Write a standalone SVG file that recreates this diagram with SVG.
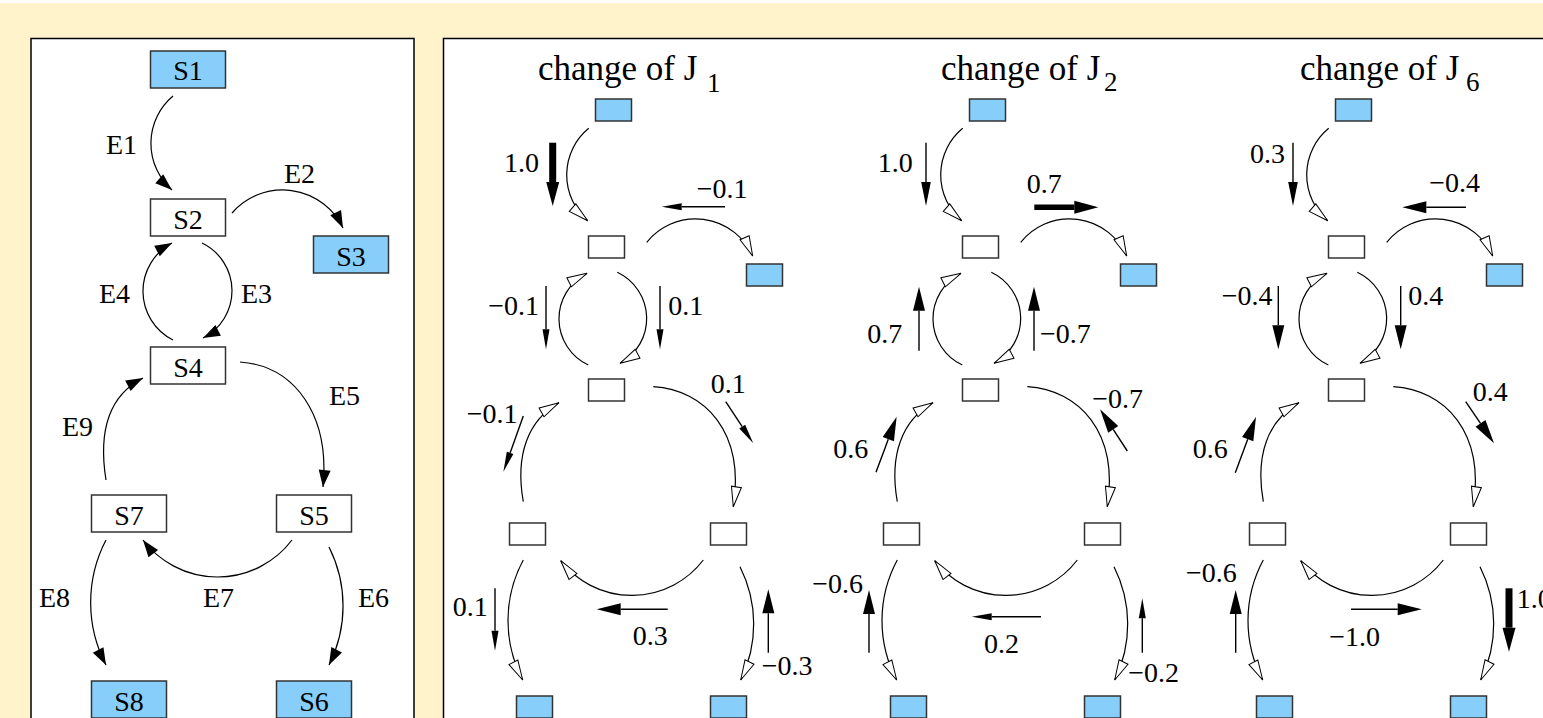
<svg xmlns="http://www.w3.org/2000/svg" width="1543" height="718" viewBox="0 0 1543 718">
<style>
.t{font-family:"Liberation Serif","Times New Roman",serif;font-size:28px;fill:#000}
.ti{font-family:"Liberation Serif","Times New Roman",serif;font-size:35px;fill:#000}
.sub{font-family:"Liberation Serif","Times New Roman",serif;font-size:27px;fill:#000}
.blue{fill:#87cefa;stroke:#333;stroke-width:1.5}
.white{fill:#fff;stroke:#333;stroke-width:1.5}
.e{fill:none;stroke:#000;stroke-width:1.2;marker-end:url(#hf)}
.c{fill:none;stroke:#000;stroke-width:1.2;marker-end:url(#ho)}
.f{stroke:#000;stroke-width:1.4}
.fk{stroke:#000;stroke-width:7}
</style>
<defs>
<marker id="hf" markerUnits="userSpaceOnUse" markerWidth="20" markerHeight="14" viewBox="0 -7 20 14" refX="17" refY="0" orient="auto" overflow="visible"><path d="M0,-6 L17,0 L0,6 z" fill="#000"/></marker>
<marker id="ho" markerUnits="userSpaceOnUse" markerWidth="22" markerHeight="12" viewBox="0 -6 22 12" refX="20" refY="0" orient="auto" overflow="visible"><path d="M0,-5 L20,0 L0,5 z" fill="#fff" stroke="#000" stroke-width="1"/></marker>
<marker id="fs" markerUnits="userSpaceOnUse" markerWidth="30" markerHeight="20" viewBox="0 -10 30 20" refX="0" refY="0" orient="auto" overflow="visible"><path d="M0,-3.5 L20,0 L0,3.5 z" fill="#000"/></marker>
<marker id="fn" markerUnits="userSpaceOnUse" markerWidth="30" markerHeight="20" viewBox="0 -10 30 20" refX="0" refY="0" orient="auto" overflow="visible"><path d="M0,-4.8 L24,0 L0,4.8 z" fill="#000"/></marker>
<marker id="fm" markerUnits="userSpaceOnUse" markerWidth="30" markerHeight="20" viewBox="0 -10 30 20" refX="0" refY="0" orient="auto" overflow="visible"><path d="M0,-6 L24,0 L0,6 z" fill="#000"/></marker>
<marker id="ft" markerUnits="userSpaceOnUse" markerWidth="30" markerHeight="20" viewBox="0 -10 30 20" refX="0" refY="0" orient="auto" overflow="visible"><path d="M0,-6.5 L24,0 L0,6.5 z" fill="#000"/></marker>
</defs>

<rect x="0" y="0" width="1543" height="718" fill="#fff"/>
<rect x="0" y="3" width="1543" height="715" fill="#fff3cc"/>
<rect x="31" y="38.5" width="383" height="690" fill="#fff" stroke="#000" stroke-width="1.5"/>
<rect x="443.5" y="38.5" width="1120" height="690" fill="#fff" stroke="#000" stroke-width="1.5"/>

<!-- left network nodes -->
<g id="S1"><rect class="blue" x="150.5" y="51" width="75" height="37"/><text class="t" x="188" y="80" text-anchor="middle">S1</text></g>
<g id="S2"><rect class="white" x="150.5" y="199" width="75" height="37"/><text class="t" x="188" y="229" text-anchor="middle">S2</text></g>
<g id="S3"><rect class="blue" x="313.5" y="236" width="75" height="37"/><text class="t" x="351" y="266" text-anchor="middle">S3</text></g>
<g id="S4"><rect class="white" x="150.5" y="347" width="75" height="37"/><text class="t" x="188" y="377" text-anchor="middle">S4</text></g>
<g id="S7"><rect class="white" x="91.5" y="495" width="75" height="37"/><text class="t" x="129" y="525" text-anchor="middle">S7</text></g>
<g id="S5"><rect class="white" x="276.5" y="495" width="75" height="37"/><text class="t" x="314" y="525" text-anchor="middle">S5</text></g>
<g id="S8"><rect class="blue" x="91.5" y="681" width="75" height="37"/><text class="t" x="129" y="711" text-anchor="middle">S8</text></g>
<g id="S6"><rect class="blue" x="276.5" y="681" width="75" height="37"/><text class="t" x="314" y="711" text-anchor="middle">S6</text></g>

<g id="left-edges">
<path class="e" d="M173,96 A62,62 0 0 0 172,190"/>
<path class="e" d="M232,213 A67,67 0 0 1 343,228"/>
<path class="e" d="M202,243 A53,53 0 0 1 203,338"/>
<path class="e" d="M173,340 A54.6,54.6 0 0 1 172,243"/>
<path class="e" d="M240,362 C295,366 330,415 323,487"/>
<path class="e" d="M106,480 C98,430 110,395 143,378"/>
<path class="e" d="M292,540 A93.5,93.5 0 0 1 143,540"/>
<path class="e" d="M106,540 A135,135 0 0 0 106,665"/>
<path class="e" d="M329,547 A131,131 0 0 1 329,665"/>
<text class="t" x="106" y="154">E1</text>
<text class="t" x="284" y="183">E2</text>
<text class="t" x="241" y="303">E3</text>
<text class="t" x="99" y="303">E4</text>
<text class="t" x="329" y="405">E5</text>
<text class="t" x="62" y="436">E9</text>
<text class="t" x="203" y="607">E7</text>
<text class="t" x="39" y="607">E8</text>
<text class="t" x="358" y="607">E6</text>
</g>

<!-- titles -->
<text class="ti" x="538" y="80">change of J</text><text class="sub" x="707" y="91.5">1</text>
<text class="ti" x="941" y="80">change of J</text><text class="sub" x="1104" y="91">2</text>
<text class="ti" x="1300" y="80">change of J</text><text class="sub" x="1466" y="91">6</text>

<!-- panel 1 nodes -->
<g id="p1-S1"><rect class="blue" x="595.5" y="99" width="36" height="22"/></g>
<g id="p1-S2"><rect class="white" x="588.5" y="236" width="36" height="22"/></g>
<g id="p1-S3"><rect class="blue" x="746.5" y="264" width="36" height="22"/></g>
<g id="p1-S4"><rect class="white" x="588.5" y="379" width="36" height="22"/></g>
<g id="p1-S7"><rect class="white" x="509.5" y="523" width="36" height="22"/></g>
<g id="p1-S5"><rect class="white" x="710.5" y="523" width="36" height="22"/></g>
<g id="p1-S8"><rect class="blue" x="516.5" y="696" width="36" height="22"/></g>
<g id="p1-S6"><rect class="blue" x="710.5" y="696" width="36" height="22"/></g>
<!-- panel 2 nodes -->
<g id="p2-S1"><rect class="blue" x="969.5" y="99" width="36" height="22"/></g>
<g id="p2-S2"><rect class="white" x="962.5" y="236" width="36" height="22"/></g>
<g id="p2-S3"><rect class="blue" x="1120.5" y="264" width="36" height="22"/></g>
<g id="p2-S4"><rect class="white" x="962.5" y="379" width="36" height="22"/></g>
<g id="p2-S7"><rect class="white" x="883.5" y="523" width="36" height="22"/></g>
<g id="p2-S5"><rect class="white" x="1084.5" y="523" width="36" height="22"/></g>
<g id="p2-S8"><rect class="blue" x="890.5" y="696" width="36" height="22"/></g>
<g id="p2-S6"><rect class="blue" x="1084.5" y="696" width="36" height="22"/></g>
<!-- panel 3 nodes -->
<g id="p3-S1"><rect class="blue" x="1335.5" y="99" width="36" height="22"/></g>
<g id="p3-S2"><rect class="white" x="1328.5" y="236" width="36" height="22"/></g>
<g id="p3-S3"><rect class="blue" x="1486.5" y="264" width="36" height="22"/></g>
<g id="p3-S4"><rect class="white" x="1328.5" y="379" width="36" height="22"/></g>
<g id="p3-S7"><rect class="white" x="1249.5" y="523" width="36" height="22"/></g>
<g id="p3-S5"><rect class="white" x="1450.5" y="523" width="36" height="22"/></g>
<g id="p3-S8"><rect class="blue" x="1256.5" y="696" width="36" height="22"/></g>
<g id="p3-S6"><rect class="blue" x="1450.5" y="696" width="36" height="22"/></g>

<g id="panel-edges">
<g id="p1-edges">
<path class="c" d="M588.7,128.3 A60.4,60.4 0 0 0 587.7,220.7"/>
<path class="c" d="M646.7,242.3 A62.6,62.6 0 0 1 752.7,256"/>
<path class="c" d="M617.3,272.3 A51,51 0 0 1 620,363.3"/>
<path class="c" d="M588.3,365 A51,51 0 0 1 587,273.3"/>
<path class="c" d="M653.3,386.7 C705,390 745,432 733.3,506.7"/>
<path class="c" d="M523.3,501.7 C515,455 528,420 559,402.7"/>
<path class="c" d="M703.3,560 A90,90 0 0 1 560.7,560.7"/>
<path class="c" d="M523.3,560 A127.5,127.5 0 0 0 522.7,680"/>
<path class="c" d="M740,566.7 A127,127 0 0 1 740.7,680"/>
</g>
<g id="p2-edges" transform="translate(374,0)">
<path class="c" d="M588.7,128.3 A60.4,60.4 0 0 0 587.7,220.7"/>
<path class="c" d="M646.7,242.3 A62.6,62.6 0 0 1 752.7,256"/>
<path class="c" d="M617.3,272.3 A51,51 0 0 1 620,363.3"/>
<path class="c" d="M588.3,365 A51,51 0 0 1 587,273.3"/>
<path class="c" d="M653.3,386.7 C705,390 745,432 733.3,506.7"/>
<path class="c" d="M523.3,501.7 C515,455 528,420 559,402.7"/>
<path class="c" d="M703.3,560 A90,90 0 0 1 560.7,560.7"/>
<path class="c" d="M523.3,560 A127.5,127.5 0 0 0 522.7,680"/>
<path class="c" d="M740,566.7 A127,127 0 0 1 740.7,680"/>
</g>
<g id="p3-edges" transform="translate(740,0)">
<path class="c" d="M588.7,128.3 A60.4,60.4 0 0 0 587.7,220.7"/>
<path class="c" d="M646.7,242.3 A62.6,62.6 0 0 1 752.7,256"/>
<path class="c" d="M617.3,272.3 A51,51 0 0 1 620,363.3"/>
<path class="c" d="M588.3,365 A51,51 0 0 1 587,273.3"/>
<path class="c" d="M653.3,386.7 C705,390 745,432 733.3,506.7"/>
<path class="c" d="M523.3,501.7 C515,455 528,420 559,402.7"/>
<path class="c" d="M703.3,560 A90,90 0 0 1 560.7,560.7"/>
<path class="c" d="M523.3,560 A127.5,127.5 0 0 0 522.7,680"/>
<path class="c" d="M740,566.7 A127,127 0 0 1 740.7,680"/>
</g>
</g>

<g id="flux-arrows">
<!-- panel 1 -->
<line class="fk" x1="552.7" y1="142.7" x2="552.7" y2="182" marker-end="url(#ft)"/>
<line class="f" x1="725" y1="206.7" x2="681.7" y2="206.7" marker-end="url(#fs)"/>
<line class="f" x1="546" y1="286" x2="546" y2="329.3" marker-end="url(#fs)"/>
<line class="f" x1="660" y1="286" x2="660" y2="329.3" marker-end="url(#fs)"/>
<line class="f" x1="725.7" y1="401.7" x2="742.2" y2="426.6" marker-end="url(#fs)"/>
<line class="f" x1="523.3" y1="416" x2="510.1" y2="452.9" marker-end="url(#fs)"/>
<line class="f" x1="667.7" y1="609.3" x2="620.7" y2="609.3" marker-end="url(#fm)"/>
<line class="f" x1="495" y1="588.3" x2="495" y2="630.7" marker-end="url(#fs)"/>
<line class="f" x1="768.3" y1="652.7" x2="768.3" y2="613.3" marker-end="url(#fm)"/>
<!-- panel 2 -->
<line class="f" x1="926" y1="142.7" x2="926" y2="182" marker-end="url(#fn)"/>
<line class="fk" x1="1034.3" y1="207.3" x2="1074.3" y2="207.3" style="stroke-width:5.5" marker-end="url(#ft)"/>
<line class="f" x1="919" y1="350.7" x2="919" y2="310.7" marker-end="url(#fm)"/>
<line class="f" x1="1034" y1="350.7" x2="1034" y2="310.7" marker-end="url(#fm)"/>
<line class="f" x1="1127.3" y1="451" x2="1113.2" y2="429.4" marker-end="url(#fm)"/>
<line class="f" x1="876" y1="472.3" x2="888.3" y2="439.2" marker-end="url(#fm)"/>
<line class="f" x1="869" y1="652.7" x2="869" y2="614" marker-end="url(#fm)"/>
<line class="f" x1="1041" y1="616.7" x2="991.7" y2="616.7" marker-end="url(#fs)"/>
<line class="f" x1="1142.3" y1="652.7" x2="1142.3" y2="618.3" marker-end="url(#fs)"/>
<!-- panel 3 -->
<line class="f" x1="1293" y1="142.7" x2="1293" y2="182" marker-end="url(#fn)"/>
<line class="f" x1="1466" y1="207.3" x2="1426.3" y2="207.3" marker-end="url(#fm)"/>
<line class="f" x1="1278.3" y1="286" x2="1278.3" y2="325.3" marker-end="url(#fm)"/>
<line class="f" x1="1400.7" y1="286" x2="1400.7" y2="325.3" marker-end="url(#fm)"/>
<line class="f" x1="1465.7" y1="401.7" x2="1480.5" y2="423.4" marker-end="url(#fm)"/>
<line class="f" x1="1235.3" y1="472.7" x2="1247.7" y2="439.2" marker-end="url(#fm)"/>
<line class="f" x1="1235.7" y1="652.7" x2="1235.7" y2="614" marker-end="url(#fm)"/>
<line class="f" x1="1351" y1="609.3" x2="1397.7" y2="609.3" marker-end="url(#fm)"/>
<line class="fk" x1="1509" y1="588.3" x2="1509" y2="627.7" marker-end="url(#ft)"/>
</g>

<g id="flux-labels">
<text class="t" x="504" y="171.7">1.0</text>
<text class="t" x="696.7" y="198.3">−0.1</text>
<text class="t" x="488.3" y="315">−0.1</text>
<text class="t" x="668.3" y="315">0.1</text>
<text class="t" x="710.7" y="393.3">0.1</text>
<text class="t" x="466.7" y="422.7">−0.1</text>
<text class="t" x="632.7" y="645">0.3</text>
<text class="t" x="452.7" y="616">0.1</text>
<text class="t" x="761.7" y="675">−0.3</text>

<text class="t" x="877.7" y="171.7">1.0</text>
<text class="t" x="1026.7" y="192.7">0.7</text>
<text class="t" x="867.3" y="343.3">0.7</text>
<text class="t" x="1040" y="343.3">−0.7</text>
<text class="t" x="1092.3" y="408.3">−0.7</text>
<text class="t" x="833.3" y="458.3">0.6</text>
<text class="t" x="863" y="593" text-anchor="end">−0.6</text>
<text class="t" x="984" y="652.7">0.2</text>
<text class="t" x="1128.3" y="681.7">−0.2</text>

<text class="t" x="1250" y="163.3">0.3</text>
<text class="t" x="1429.3" y="191.7">−0.4</text>
<text class="t" x="1221.7" y="305">−0.4</text>
<text class="t" x="1408.3" y="305">0.4</text>
<text class="t" x="1472.7" y="400.7">0.4</text>
<text class="t" x="1192.7" y="458.3">0.6</text>
<text class="t" x="1236.7" y="582" text-anchor="end">−0.6</text>
<text class="t" x="1329.3" y="646">−1.0</text>
<text class="t" x="1516.7" y="608.3">1.0</text>
</g>
</svg>
